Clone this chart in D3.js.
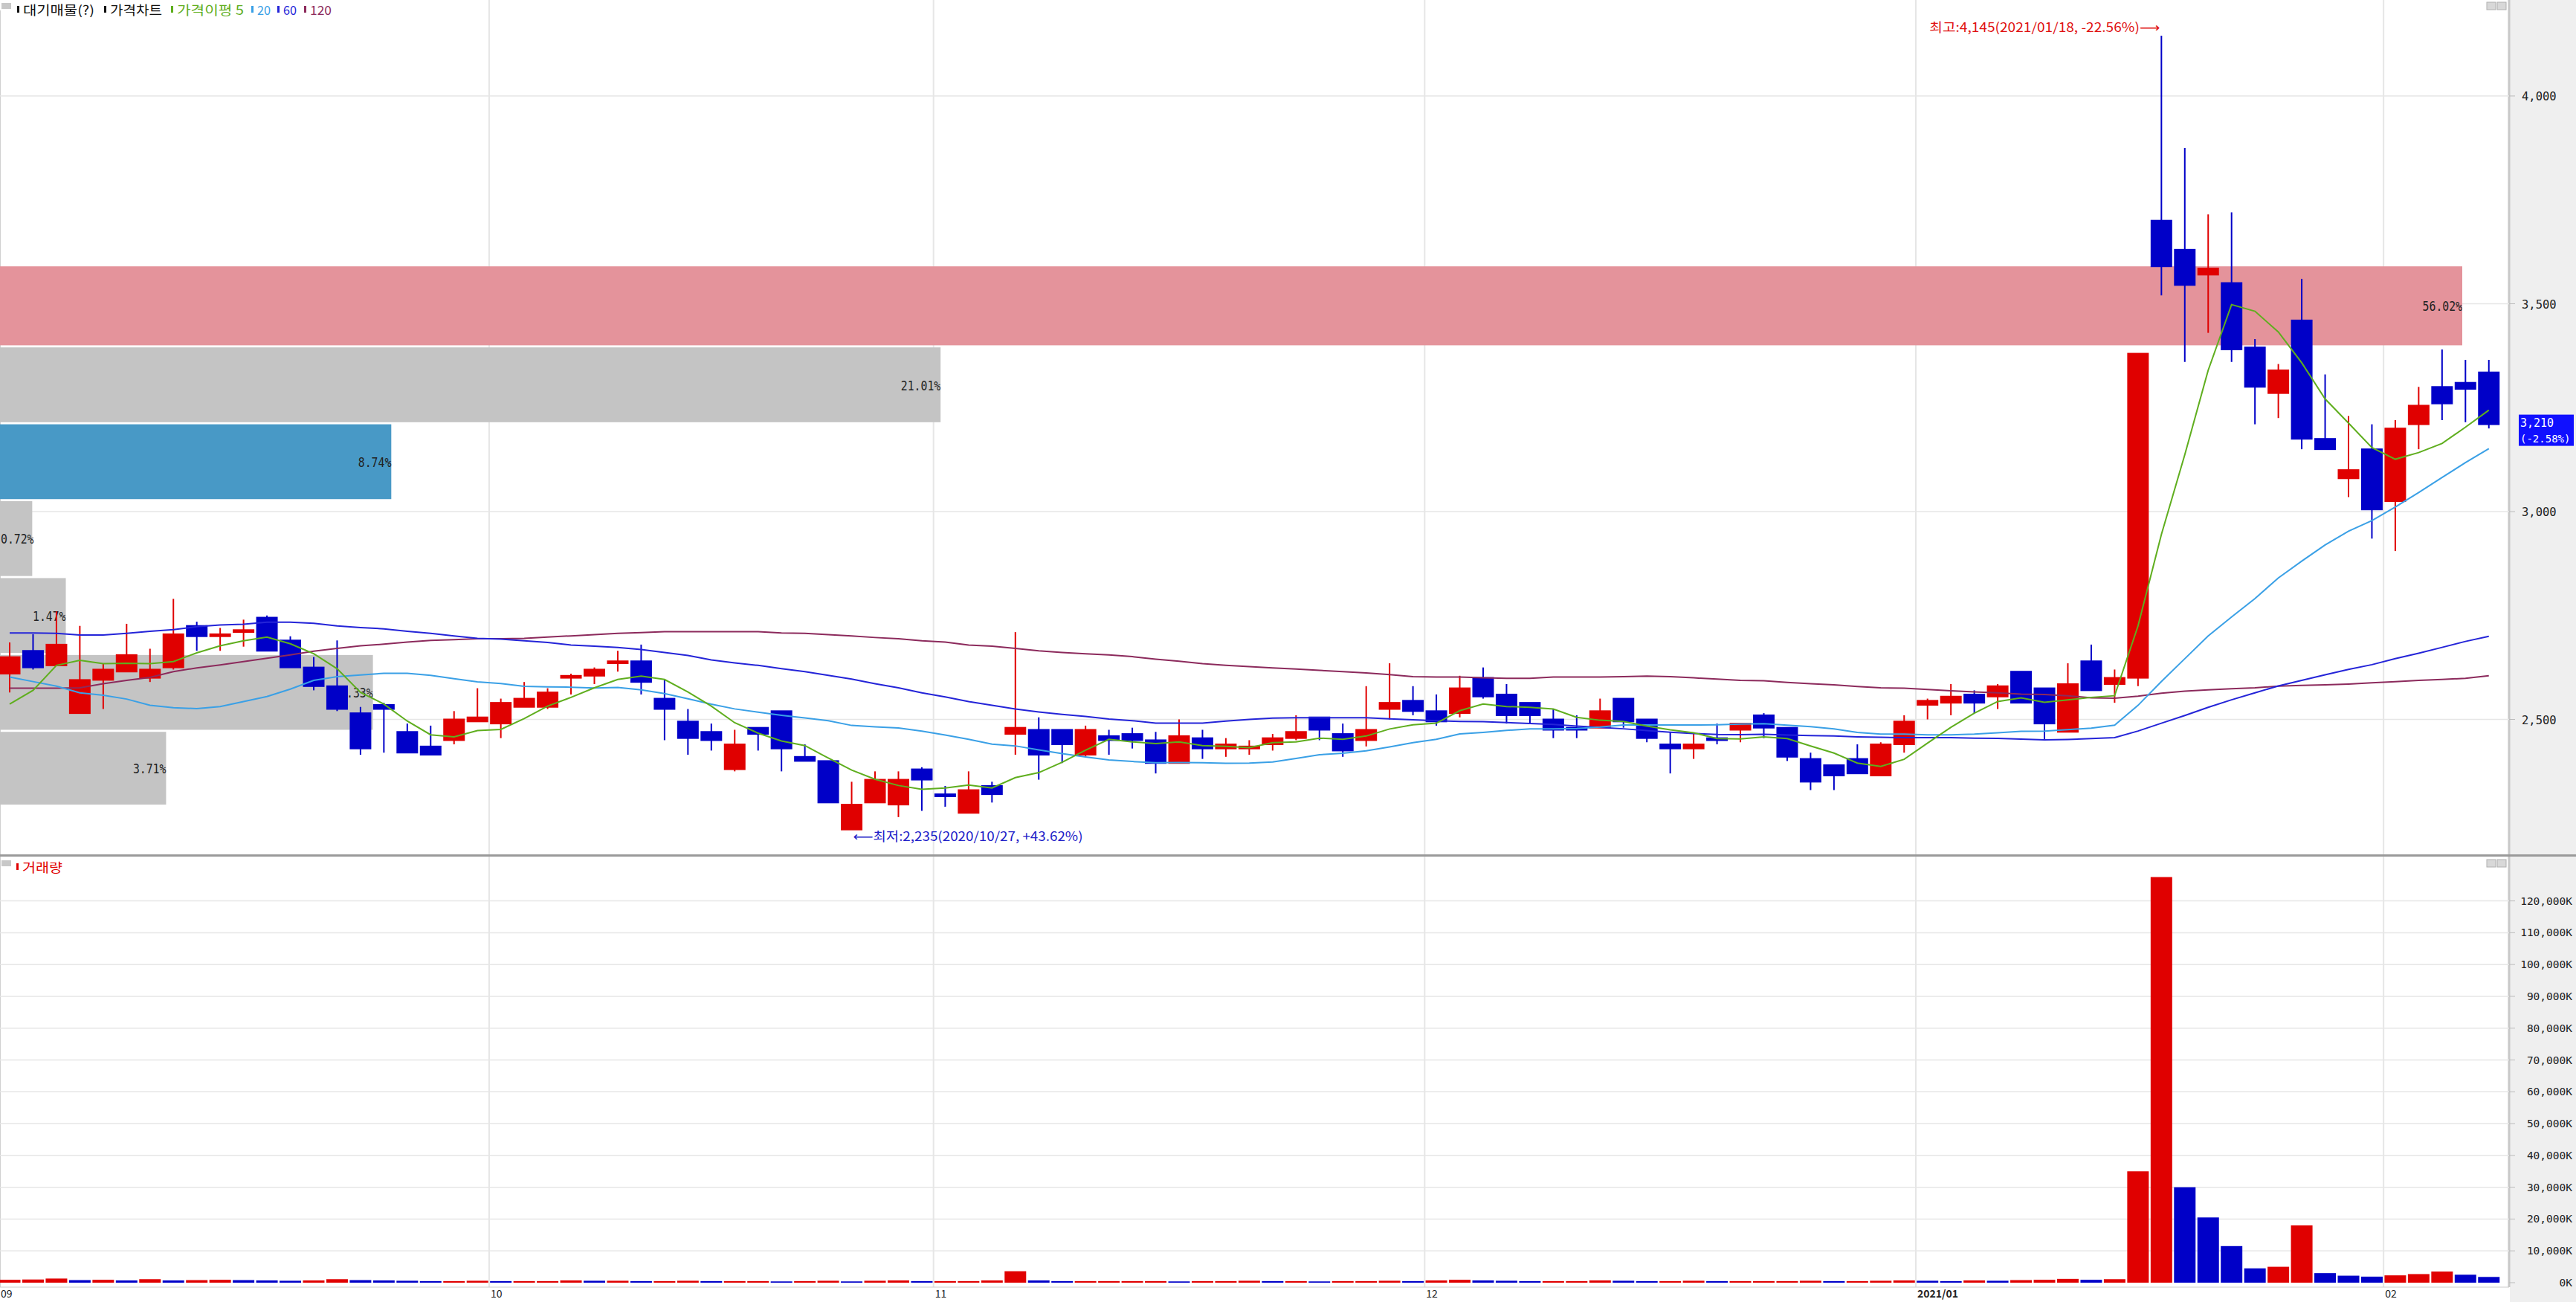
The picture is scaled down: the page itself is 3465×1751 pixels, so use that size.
<!DOCTYPE html>
<html><head><meta charset="utf-8">
<script src="https://cdn.jsdelivr.net/npm/d3@7"></script>
<style>html,body{margin:0;padding:0;background:#fff;overflow:hidden}svg{display:block}</style>
</head><body>
<svg id="c" width="3465" height="1751"></svg>
<script>
// ---------------- DATA ----------------
const opens  = [2610,2665,2630,2515,2595,2615,2600,2625,2725,2700,2710,2745,2690,2625,2580,2515,2535,2470,2435,2450,
                2495,2490,2530,2530,2600,2605,2635,2640,2550,2495,2470,2380,2480,2520,2410,2400,2235,2300,2295,2380,
                2320,2275,2340,2465,2475,2475,2415,2460,2465,2450,2395,2455,2430,2430,2440,2455,2505,2465,2450,2525,
                2545,2520,2515,2600,2560,2540,2500,2480,2480,2550,2500,2440,2430,2455,2475,2510,2480,2405,2390,2405,
                2365,2440,2535,2540,2560,2555,2615,2575,2470,2640,2585,2600,3700,3630,3570,3550,3395,3285,3460,3175,
                3080,3150,3025,3210,3300,3310,3335];
const highs  = [2685,2705,2760,2725,2635,2730,2670,2790,2735,2720,2740,2750,2700,2650,2690,2530,2540,2490,2485,2520,
                2575,2550,2590,2575,2610,2625,2665,2680,2595,2525,2490,2475,2480,2520,2440,2400,2350,2375,2375,2385,
                2340,2375,2350,2710,2505,2475,2485,2475,2480,2470,2500,2475,2455,2450,2465,2510,2505,2490,2580,2635,
                2580,2560,2605,2625,2585,2540,2525,2510,2550,2550,2500,2470,2465,2490,2490,2515,2480,2420,2390,2440,
                2445,2510,2550,2585,2570,2585,2615,2575,2635,2680,2620,3380,4145,3875,3715,3720,3415,3355,3560,3330,
                3230,3210,3220,3300,3390,3365,3365];
const lows   = [2565,2620,2630,2515,2525,2615,2590,2620,2665,2665,2675,2665,2625,2570,2520,2415,2420,2420,2415,2440,
                2495,2455,2530,2525,2560,2585,2615,2560,2450,2415,2425,2375,2425,2375,2400,2300,2235,2300,2265,2280,
                2290,2275,2300,2415,2355,2395,2410,2415,2430,2370,2395,2405,2410,2415,2425,2450,2450,2410,2435,2500,
                2510,2485,2505,2550,2490,2490,2455,2455,2480,2480,2445,2370,2405,2440,2445,2455,2400,2330,2330,2370,
                2365,2420,2500,2510,2515,2525,2540,2450,2470,2570,2540,2580,3520,3360,3430,3360,3210,3225,3150,3150,
                3035,2935,2905,3150,3220,3215,3200];
const closes = [2650,2625,2680,2595,2620,2655,2620,2705,2700,2705,2715,2665,2625,2580,2525,2430,2525,2420,2415,2500,
                2505,2540,2550,2565,2605,2620,2640,2590,2525,2455,2450,2440,2465,2430,2400,2300,2295,2355,2355,2355,
                2315,2330,2320,2480,2415,2440,2475,2450,2450,2395,2460,2430,2440,2435,2455,2470,2475,2425,2475,2540,
                2520,2495,2575,2555,2510,2510,2475,2475,2520,2495,2455,2430,2440,2450,2490,2480,2410,2350,2365,2370,
                2440,2495,2545,2555,2540,2580,2540,2490,2585,2570,2600,3380,3590,3545,3585,3390,3300,3340,3175,3150,
                3100,3005,3200,3255,3260,3295,3210];
// volume in thousands of shares (K)
const volumes = [900,1000,1300,800,900,700,1100,700,800,900,800,700,600,700,1100,800,700,600,500,500,
                 600,500,500,500,700,600,600,500,500,600,500,500,500,400,500,600,400,600,700,500,
                 500,500,700,3600,700,500,500,500,500,500,400,500,500,600,500,500,400,500,500,600,
                 500,700,900,700,600,500,500,500,700,600,500,500,600,500,500,500,500,600,500,500,
                 600,700,600,500,700,600,800,900,1200,900,1100,35000,127500,30000,20500,11500,4500,5000,18000,3000,
                 2200,1900,2300,2700,3500,2500,1800];
const ma5Head  = [2537,2570,2630,2642];
const ma20Head = [2602,2591,2580,2564,2558,2549,2534,2528,2526,2531,2543,2555,2573,2594,2603,2607,2611,2611,2606];
const ma60Head = [2708,2708,2707,2703,2703,2707,2712,2716,2723,2727,2729,2734,2734,2731,2725,2721,2718,2712,2707,2701,
                  2695,2693,2689,2685,2679,2676,2673,2668,2661,2654,2643,2636,2630,2622,2615,2606,2597,2586,2576,2564,
                  2554,2543,2534,2525,2518,2512,2507,2501,2497,2491,2491,2491,2496,2500,2503,2504,2504,2504,2504];
const ma120 = [2575,2575,2575,2576,2586,2594,2601,2615,2624,2631,2639,2647,2655,2664,2671,2677,2681,2686,2690,2692,
               2694,2694,2695,2698,2701,2704,2707,2709,2711,2711,2711,2711,2711,2708,2707,2704,2701,2697,2694,2689,
               2686,2679,2676,2671,2665,2661,2658,2655,2651,2645,2640,2634,2630,2627,2624,2621,2618,2615,2612,2608,
               2603,2602,2602,2600,2599,2599,2602,2602,2602,2603,2604,2603,2600,2597,2594,2593,2589,2586,2583,2579,
               2576,2575,2572,2569,2566,2564,2561,2560,2557,2552,2551,2556,2563,2568,2571,2574,2576,2580,2582,2583,
               2585,2588,2591,2594,2596,2599,2605];
const monthStart  = [0,21,40,61,82,102];
const monthLabels = ["09","10","11","12","2021/01","02"];
const priceTicks  = [2500,3000,3500,4000];
const volTicks    = [0,10000,20000,30000,40000,50000,60000,70000,80000,90000,100000,110000,120000];
// 대기매물 (volume at price) bands
const profileHi  = [3590,3395,3210,3025,2840,2655,2470];
const profileLo  = [3400,3215,3030,2845,2660,2475,2295];
const profilePct = [56.02,21.01,8.74,0.72,1.47,8.33,3.71];
const highInfo = {idx:92, text:"최고:4,145(2021/01/18, -22.56%)⟶"};
const lowInfo  = {idx:36, text:"⟵최저:2,235(2020/10/27, +43.62%)"};
const lastText = ["3,210","(-2.58%)"];

// ---------------- LAYOUT ----------------
const W=3465, H=1751, plotR=3375, axisX=3376;
const N = closes.length;
const x = d3.scaleLinear().domain([0, N-1]).range([13, 13 + 31.46*(N-1)]);
const step = x(1)-x(0), bodyW = 29;
const yP = d3.scaleLinear().domain([2500,4000]).range([967.5,129]);
const yV = d3.scaleLinear().domain([0,120000]).range([1725,1211.6]);
const pctX = d3.scaleLinear().domain([0,55]).range([0,3312]).clamp(true);
const UP="#e00000", DN="#0000c8", GRID="#e6e6e6";
const svg = d3.select("#c");
const mono = "'DejaVu Sans Mono','Liberation Mono',monospace";
const kr = "'Noto Sans CJK KR','DejaVu Sans',sans-serif";

svg.append("rect").attr("width",W).attr("height",H).attr("fill","#fff");
// axis panel
svg.append("rect").attr("x",axisX).attr("y",0).attr("width",W-axisX).attr("height",H).attr("fill","#efefef");
svg.append("line").attr("x1",plotR).attr("x2",plotR).attr("y1",0).attr("y2",1731).attr("stroke","#c8c8c8").attr("stroke-width",3);
svg.append("line").attr("x1",0.5).attr("x2",0.5).attr("y1",14).attr("y2",1731).attr("stroke","#d0d0d0");

// grid
const gGrid = svg.append("g");
gGrid.selectAll(".hp").data(priceTicks).join("line")
  .attr("x1",0).attr("x2",plotR).attr("y1",d=>yP(d)).attr("y2",d=>yP(d)).attr("stroke",GRID).attr("stroke-width",1.5);
gGrid.selectAll(".hv").data(volTicks.slice(1)).join("line")
  .attr("x1",0).attr("x2",plotR).attr("y1",d=>yV(d)).attr("y2",d=>yV(d)).attr("stroke",GRID).attr("stroke-width",1.5);
gGrid.selectAll(".vm").data(monthStart).join("line")
  .attr("x1",d=>x(d)-step/2).attr("x2",d=>x(d)-step/2).attr("y1",0).attr("y2",1731).attr("stroke",GRID).attr("stroke-width",2);

// volume profile
const gProf = svg.append("g");
profilePct.forEach((p,i)=>{
  const y0=yP(profileHi[i]), y1=yP(profileLo[i]);
  const col = i===0 ? "#e4939b" : (i===2 ? "#4899c6" : "#c4c4c4");
  const s = p.toFixed(2)+"%";
  gProf.append("rect").attr("x",0).attr("y",y0).attr("width",pctX(p)).attr("height",y1-y0).attr("fill",col);
  gProf.append("text").attr("x",Math.max(pctX(p),s.length*8.9+1)).attr("y",(y0+y1)/2+7).attr("text-anchor","end")
    .attr("font-family",mono).attr("font-size",18).attr("fill","#222")
    .attr("textLength",s.length*8.9).attr("lengthAdjust","spacingAndGlyphs").text(s);
});

// candles
const gC = svg.append("g");
for(let i=0;i<N;i++){
  const up = closes[i]>=opens[i], col = up?UP:DN, cx=x(i);
  gC.append("line").attr("x1",cx).attr("x2",cx).attr("y1",yP(highs[i])).attr("y2",yP(lows[i])).attr("stroke",col).attr("stroke-width",2);
  const t=yP(Math.max(opens[i],closes[i])), b=yP(Math.min(opens[i],closes[i]));
  gC.append("rect").attr("x",cx-bodyW/2).attr("y",t-1).attr("width",bodyW).attr("height",Math.max(2.5,b-t+2)).attr("fill",col);
}

// moving averages
function sma(n, head){ return closes.map((c,i)=> i<head.length ? head[i] : d3.mean(closes.slice(i-n+1,i+1))); }
const maSeries = [
  {v:ma120, c:"#8c2a5c"},
  {v:sma(60,ma60Head), c:"#2424d8"},
  {v:sma(20,ma20Head), c:"#3aa0e6"},
  {v:sma(5,ma5Head), c:"#5fae1e"}
];
const line = d3.line().x((d,i)=>x(i)).y(d=>yP(d));
maSeries.forEach(s=> svg.append("path").attr("d",line(s.v)).attr("fill","none").attr("stroke",s.c).attr("stroke-width",2));

// high / low annotations
svg.append("text").attr("x",x(highInfo.idx)-2).attr("y",43).attr("text-anchor","end")
  .attr("font-family",kr).attr("font-size",17).attr("fill","#e01010")
  .attr("textLength",310).attr("lengthAdjust","spacingAndGlyphs").text(highInfo.text);
svg.append("text").attr("x",x(lowInfo.idx)+2).attr("y",1131).attr("text-anchor","start")
  .attr("font-family",kr).attr("font-size",17).attr("fill","#2020c8")
  .attr("textLength",309).attr("lengthAdjust","spacingAndGlyphs").text(lowInfo.text);

// volume bars
const gV = svg.append("g");
volumes.forEach((v,i)=>{
  const col = (i===0 || v>=volumes[i-1]) ? UP : DN;
  gV.append("rect").attr("x",x(i)-bodyW/2).attr("y",yV(v)).attr("width",bodyW).attr("height",yV(0)-yV(v)).attr("fill",col);
});

// pane separator
svg.append("rect").attr("x",0).attr("y",1149).attr("width",W).attr("height",3).attr("fill","#9a9a9a");

// price axis
const gA = svg.append("g");
priceTicks.forEach(t=>{
  gA.append("line").attr("x1",plotR).attr("x2",3383).attr("y1",yP(t)).attr("y2",yP(t)).attr("stroke","#bbb");
  gA.append("text").attr("x",3392).attr("y",yP(t)+6).attr("font-family",mono).attr("font-size",15.5).attr("fill","#222")
    .text(d3.format(",")(t));
});
volTicks.forEach(t=>{
  gA.append("line").attr("x1",plotR).attr("x2",3383).attr("y1",yV(t)).attr("y2",yV(t)).attr("stroke","#bbb");
  gA.append("text").attr("x",3460).attr("y",yV(t)+5).attr("text-anchor","end").attr("font-family",mono).attr("font-size",14.5).attr("fill","#222")
    .text(d3.format(",")(t)+"K");
});
// last price box
const ly = yP(closes[N-1]);
svg.append("rect").attr("x",3388).attr("y",ly-13).attr("width",74).attr("height",42).attr("fill","#1010ff");
svg.append("text").attr("x",3390).attr("y",ly+3).attr("font-family",mono).attr("font-size",15).attr("fill","#fff").text(lastText[0]);
svg.append("text").attr("x",3390).attr("y",ly+24).attr("font-family",mono).attr("font-size",14).attr("fill","#fff").text(lastText[1]);

// x axis labels
svg.append("rect").attr("x",0).attr("y",1731).attr("width",plotR).attr("height",20).attr("fill","#fff");
svg.append("line").attr("x1",0).attr("x2",plotR).attr("y1",1731).attr("y2",1731).attr("stroke","#ccc");
monthStart.forEach((m,i)=>{
  svg.append("text").attr("x",Math.max(1,x(m)-step/2+2)).attr("y",1745).attr("font-family",kr).attr("font-size",14)
    .attr("font-weight",monthLabels[i].length>2?"bold":"normal").attr("fill","#222").text(monthLabels[i]);
});

// legends
function legend(y, items){
  svg.append("rect").attr("x",2).attr("y",y-16).attr("width",13).attr("height",8).attr("fill","#c8c8c8");
  items.forEach(it=>{
    svg.append("rect").attr("x",it.x).attr("y",y-12).attr("width",3).attr("height",9).attr("fill",it.m||it.c);
    svg.append("text").attr("x",it.x+8).attr("y",y).attr("font-family",kr).attr("font-size",17).attr("fill",it.c)
      .attr("textLength",it.w).attr("lengthAdjust","spacingAndGlyphs").text(it.t);
  });
}
legend(20,[{x:23,t:"대기매물(?)",c:"#111",w:96},{x:140,t:"가격차트",c:"#111",w:70},{x:230,t:"가격이평 5",c:"#5fae1e",w:90},
           {x:338,t:"20",c:"#3aa0e6",w:18},{x:373,t:"60",c:"#2424d8",w:18},{x:409,t:"120",c:"#8c2a5c",w:29}]);
legend(1173,[{x:22,t:"거래량",c:"#e00000",w:54}]);

// pane buttons
[[3345,3],[3359,3],[3345,1156],[3359,1156]].forEach(([bx,by])=>{
  svg.append("rect").attr("x",bx).attr("y",by).attr("width",12).attr("height",10).attr("fill","#d8d8d8").attr("stroke","#b0b0b0");
});
</script>
</body></html>
